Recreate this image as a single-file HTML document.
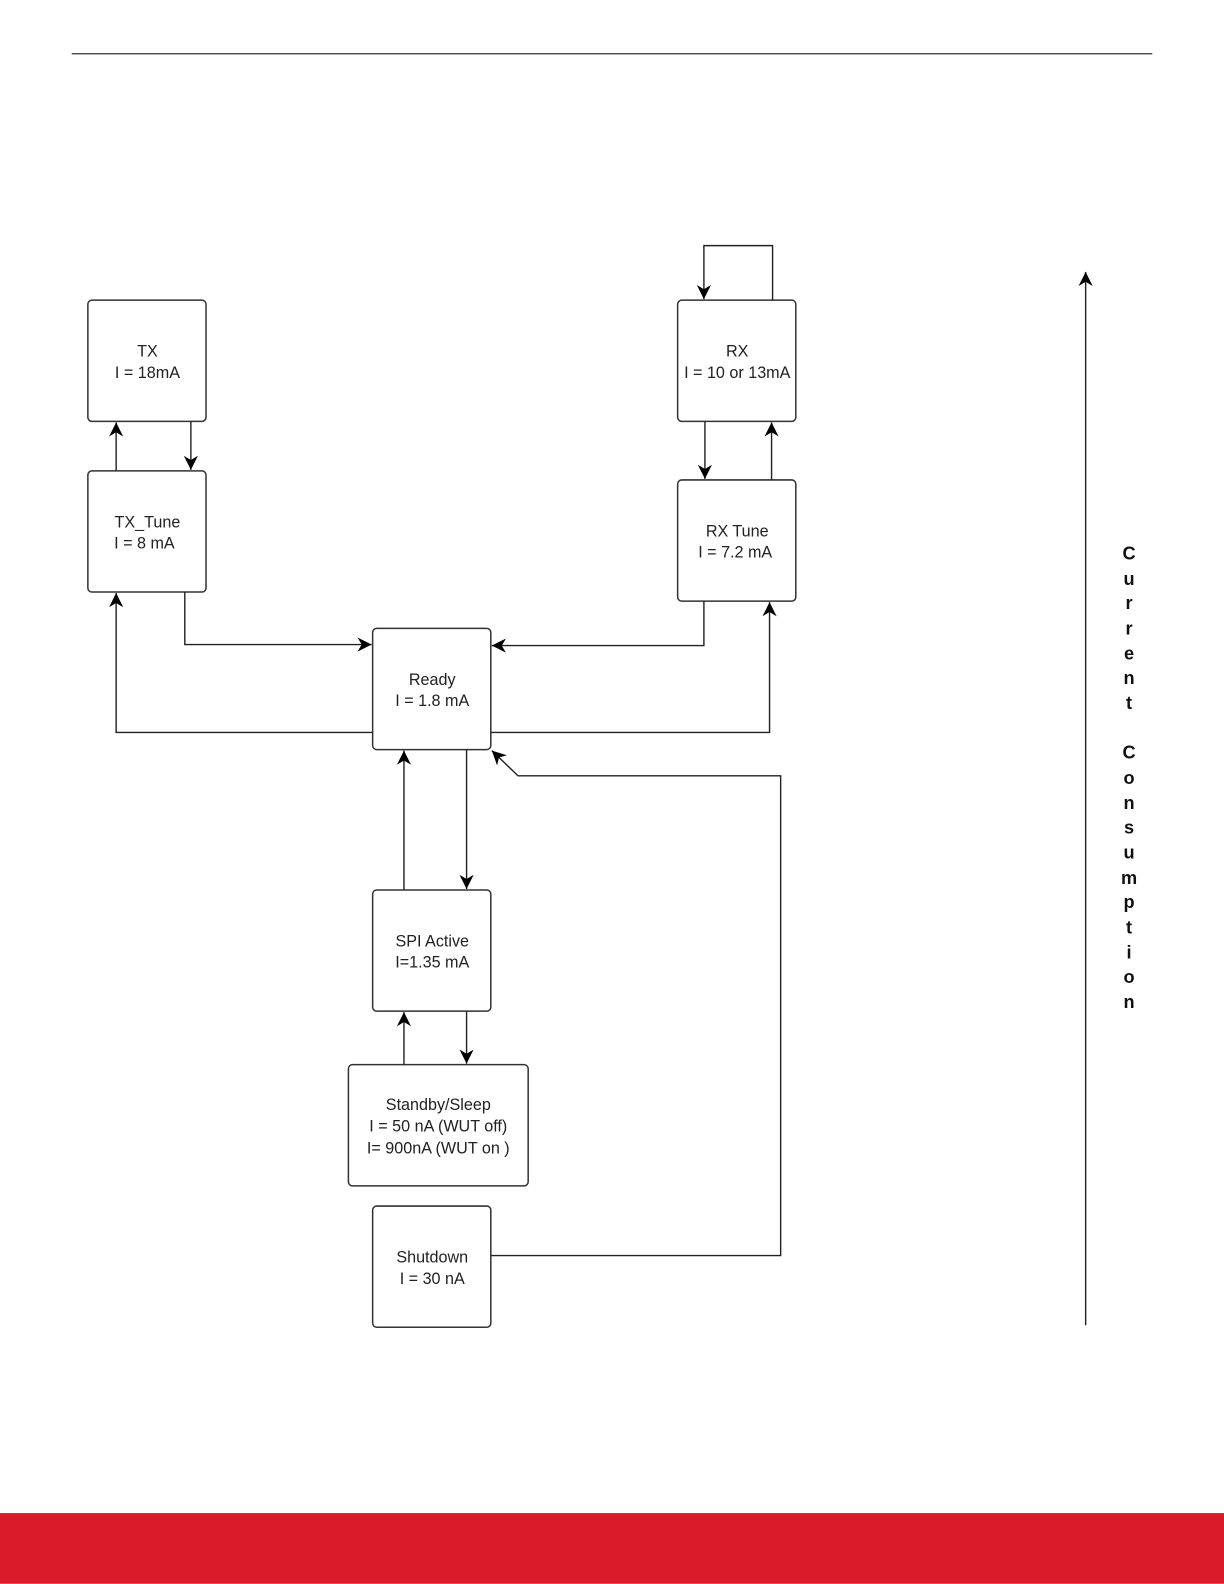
<!DOCTYPE html>
<html><head><style>html,body{margin:0;padding:0;background:#fff}svg{display:block}</style></head><body>
<svg width="1224" height="1584" viewBox="0 0 1212 1568" xmlns="http://www.w3.org/2000/svg" font-family="Liberation Sans, sans-serif">
<defs><marker id="a" viewBox="0 0 10 10" refX="10" refY="5" markerWidth="9" markerHeight="9" orient="auto" markerUnits="userSpaceOnUse"><path d="M0,0 L10,5 L0,10 L3,5 z" fill="#000"/></marker>
<marker id="b" viewBox="0 0 10 10" refX="10" refY="5" markerWidth="14" markerHeight="14" orient="auto" markerUnits="userSpaceOnUse"><path d="M0,0 L10,5 L0,10 L3,5 z" fill="#000"/></marker></defs>
<line x1="71" y1="53" x2="1141" y2="53" stroke="#333" stroke-width="1.3"/>
<rect x="0" y="1498" width="1212" height="70" fill="#d91c2a"/>
<g fill="#fff" stroke="#333" stroke-width="1.5">
<rect x="87" y="297" width="117" height="120" rx="4"/>
<rect x="87" y="466" width="117" height="120" rx="4"/>
<rect x="671" y="297" width="117" height="120" rx="4"/>
<rect x="671" y="475" width="117" height="120" rx="4"/>
<rect x="369" y="622" width="117" height="120" rx="4"/>
<rect x="369" y="881" width="117" height="120" rx="4"/>
<rect x="345" y="1054" width="178" height="120" rx="4"/>
<rect x="369" y="1194" width="117" height="120" rx="4"/>
</g>
<g fill="none" stroke="#222" stroke-width="1.4" marker-end="url(#b)">
<path d="M115,466 V418"/>
<path d="M189,417 V465"/>
<path d="M183,586 V638 H368"/>
<path d="M369,725 H115 V587"/>
<path d="M698,417 V474"/>
<path d="M764,475 V418"/>
<path d="M697,595 V639 H487"/>
<path d="M486,725 H762 V596"/>
<path d="M765,297 V243 H697 V296"/>
<path d="M462,742 V880"/>
<path d="M400,881 V743"/>
<path d="M462,1001 V1053"/>
<path d="M400,1054 V1002"/>
<path d="M486,1243 H773 V768 H513 L487,743"/>
<path d="M1075,1312 V269"/>
</g>
<g font-size="16" fill="#222" text-anchor="middle">
<text x="146" y="353">TX</text><text x="146" y="374">I = 18mA</text>
<text x="146" y="522">TX_Tune</text><text x="143" y="543">I = 8 mA</text>
<text x="730" y="353">RX</text><text x="730" y="374">I = 10 or 13mA</text>
<text x="730" y="531">RX Tune</text><text x="728" y="552">I = 7.2 mA</text>
<text x="428" y="678">Ready</text><text x="428" y="699">I = 1.8 mA</text>
<text x="428" y="937">SPI Active</text><text x="428" y="958">I=1.35 mA</text>
<text x="434" y="1099">Standby/Sleep</text><text x="434" y="1120">I = 50 nA (WUT off)</text><text x="434" y="1142">I= 900nA (WUT on )</text>
<text x="428" y="1250">Shutdown</text><text x="428" y="1271">I = 30 nA</text>
</g>
<g font-size="18" font-weight="bold" fill="#111" text-anchor="middle">
<text x="1118" y="554">C</text><text x="1118" y="579">u</text><text x="1118" y="603">r</text><text x="1118" y="628">r</text><text x="1118" y="653">e</text><text x="1118" y="677">n</text><text x="1118" y="702">t</text>
<text x="1118" y="751">C</text><text x="1118" y="776">o</text><text x="1118" y="801">n</text><text x="1118" y="825">s</text><text x="1118" y="850">u</text><text x="1118" y="875">m</text><text x="1118" y="899">p</text><text x="1118" y="924">t</text><text x="1118" y="949">i</text><text x="1118" y="973">o</text><text x="1118" y="998">n</text>
</g>
</svg>
</body></html>
